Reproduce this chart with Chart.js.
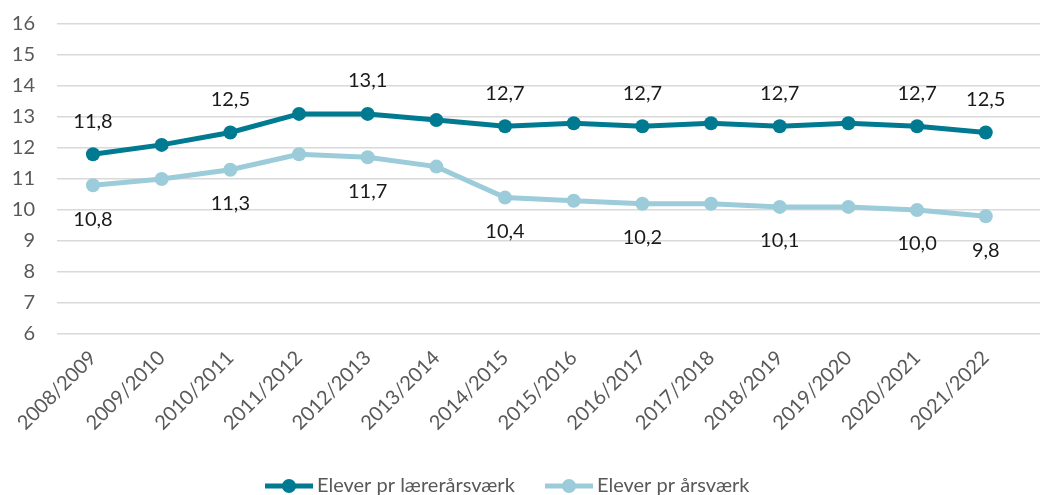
<!DOCTYPE html>
<html>
<head>
<meta charset="utf-8">
<script src="https://cdn.jsdelivr.net/npm/chart.js@4"></script>
<style>
  html, body { margin: 0; padding: 0; background: #fff; }
  #wrap { width: 1047px; height: 495px; }
</style>
</head>
<body>
<div id="wrap"><canvas id="chart" width="1047" height="495"></canvas></div>
<script>
// school years
const years = ['2008/2009', '2009/2010', '2010/2011', '2011/2012', '2012/2013', '2013/2014', '2014/2015',
	'2015/2016', '2016/2017', '2017/2018', '2018/2019', '2019/2020', '2020/2021', '2021/2022']
// elever pr lærerårsværk
const teacherRatio = [11.8, 12.1, 12.5, 13.1, 13.1, 12.9, 12.7, 12.8, 12.7, 12.8, 12.7, 12.8, 12.7, 12.5]
// elever pr årsværk
const staffRatio = [10.8, 11.0, 11.3, 11.8, 11.7, 11.4, 10.4, 10.3, 10.2, 10.2, 10.1, 10.1, 10.0, 9.8]
// which points get a value label
const labelled = [0, 2, 4, 6, 8, 10, 12, 13]
const seriesNames = ['Elever pr lærerårsværk', 'Elever pr årsværk']

const dark = '#007A91'
const light = '#9CCCD9'
const font = 'Lato, "Open Sans", sans-serif'

function toPoints(vals) {
	return vals.map(function (v, i) { return { x: i, y: v } })
}

// value labels, above for the first series, below for the second
const valueLabels = {
	id: 'valueLabels',
	afterDatasetsDraw(chart) {
		const ctx = chart.ctx
		ctx.save()
		ctx.font = '20px ' + font
		ctx.fillStyle = '#1a1a1a'
		ctx.textAlign = 'center'
		ctx.textBaseline = 'middle'
		chart.data.datasets.forEach(function (ds, di) {
			const meta = chart.getDatasetMeta(di)
			labelled.forEach(function (i) {
				const p = meta.data[i]
				const t = ds.data[i].y.toFixed(1).replace('.', ',')
				ctx.fillText(t, p.x, di === 0 ? p.y - 33 : p.y + 34)
			})
		})
		ctx.restore()
	}
}

// legend drawn by hand: line with a dot, then the name
const bottomLegend = {
	id: 'bottomLegend',
	afterDraw(chart) {
		const ctx = chart.ctx
		const items = [
			{ x: 265, color: dark, name: seriesNames[0] },
			{ x: 545, color: light, name: seriesNames[1] }
		]
		const y = 486
		ctx.save()
		items.forEach(function (it) {
			ctx.strokeStyle = it.color
			ctx.lineWidth = 5
			ctx.beginPath()
			ctx.moveTo(it.x, y)
			ctx.lineTo(it.x + 48, y)
			ctx.stroke()
			ctx.fillStyle = it.color
			ctx.beginPath()
			ctx.arc(it.x + 24, y, 7, 0, Math.PI * 2)
			ctx.fill()
			ctx.fillStyle = '#595959'
			ctx.font = '20px ' + font
			ctx.textAlign = 'left'
			ctx.textBaseline = 'middle'
			ctx.fillText(it.name, it.x + 52, y)
		})
		ctx.restore()
	}
}

new Chart(document.getElementById('chart'), {
	type: 'line',
	data: {
		datasets: [{
			label: seriesNames[0],
			data: toPoints(teacherRatio),
			borderColor: dark,
			backgroundColor: dark,
			borderWidth: 5,
			pointRadius: 7,
			pointHoverRadius: 7,
			pointBorderWidth: 0,
			tension: 0
		}, {
			label: seriesNames[1],
			data: toPoints(staffRatio),
			borderColor: light,
			backgroundColor: light,
			borderWidth: 5,
			pointRadius: 7,
			pointHoverRadius: 7,
			pointBorderWidth: 0,
			tension: 0
		}]
	},
	options: {
		responsive: false,
		animation: false,
		layout: { padding: { top: 24, right: 0, left: 0, bottom: 0 } },
		plugins: {
			legend: { display: false },
			tooltip: { enabled: false }
		},
		scales: {
			x: {
				type: 'linear',
				min: -0.524,
				max: 13.79,
				grid: { display: false },
				border: { display: false },
				afterFit: function (s) { s.height = 161 },
				ticks: {
					stepSize: 1,
					includeBounds: false,
					autoSkip: false,
					minRotation: 45,
					maxRotation: 45,
					padding: 4,
					color: '#595959',
					font: { family: font, size: 20 },
					callback: function (v) { return Number.isInteger(v) ? years[v] : '' }
				}
			},
			y: {
				min: 6,
				max: 16,
				grid: { color: '#d9d9d9', lineWidth: 1.5, drawTicks: false },
				border: { display: false },
				afterFit: function (s) {
					s.width = 57
					// tick padding would otherwise push the plot top down
					s.paddingTop = 10
					s.paddingBottom = 10
				},
				ticks: {
					stepSize: 1,
					padding: 22,
					color: '#595959',
					font: { family: font, size: 20 }
				}
			}
		}
	},
	plugins: [valueLabels, bottomLegend]
})
</script>
</body>
</html>
